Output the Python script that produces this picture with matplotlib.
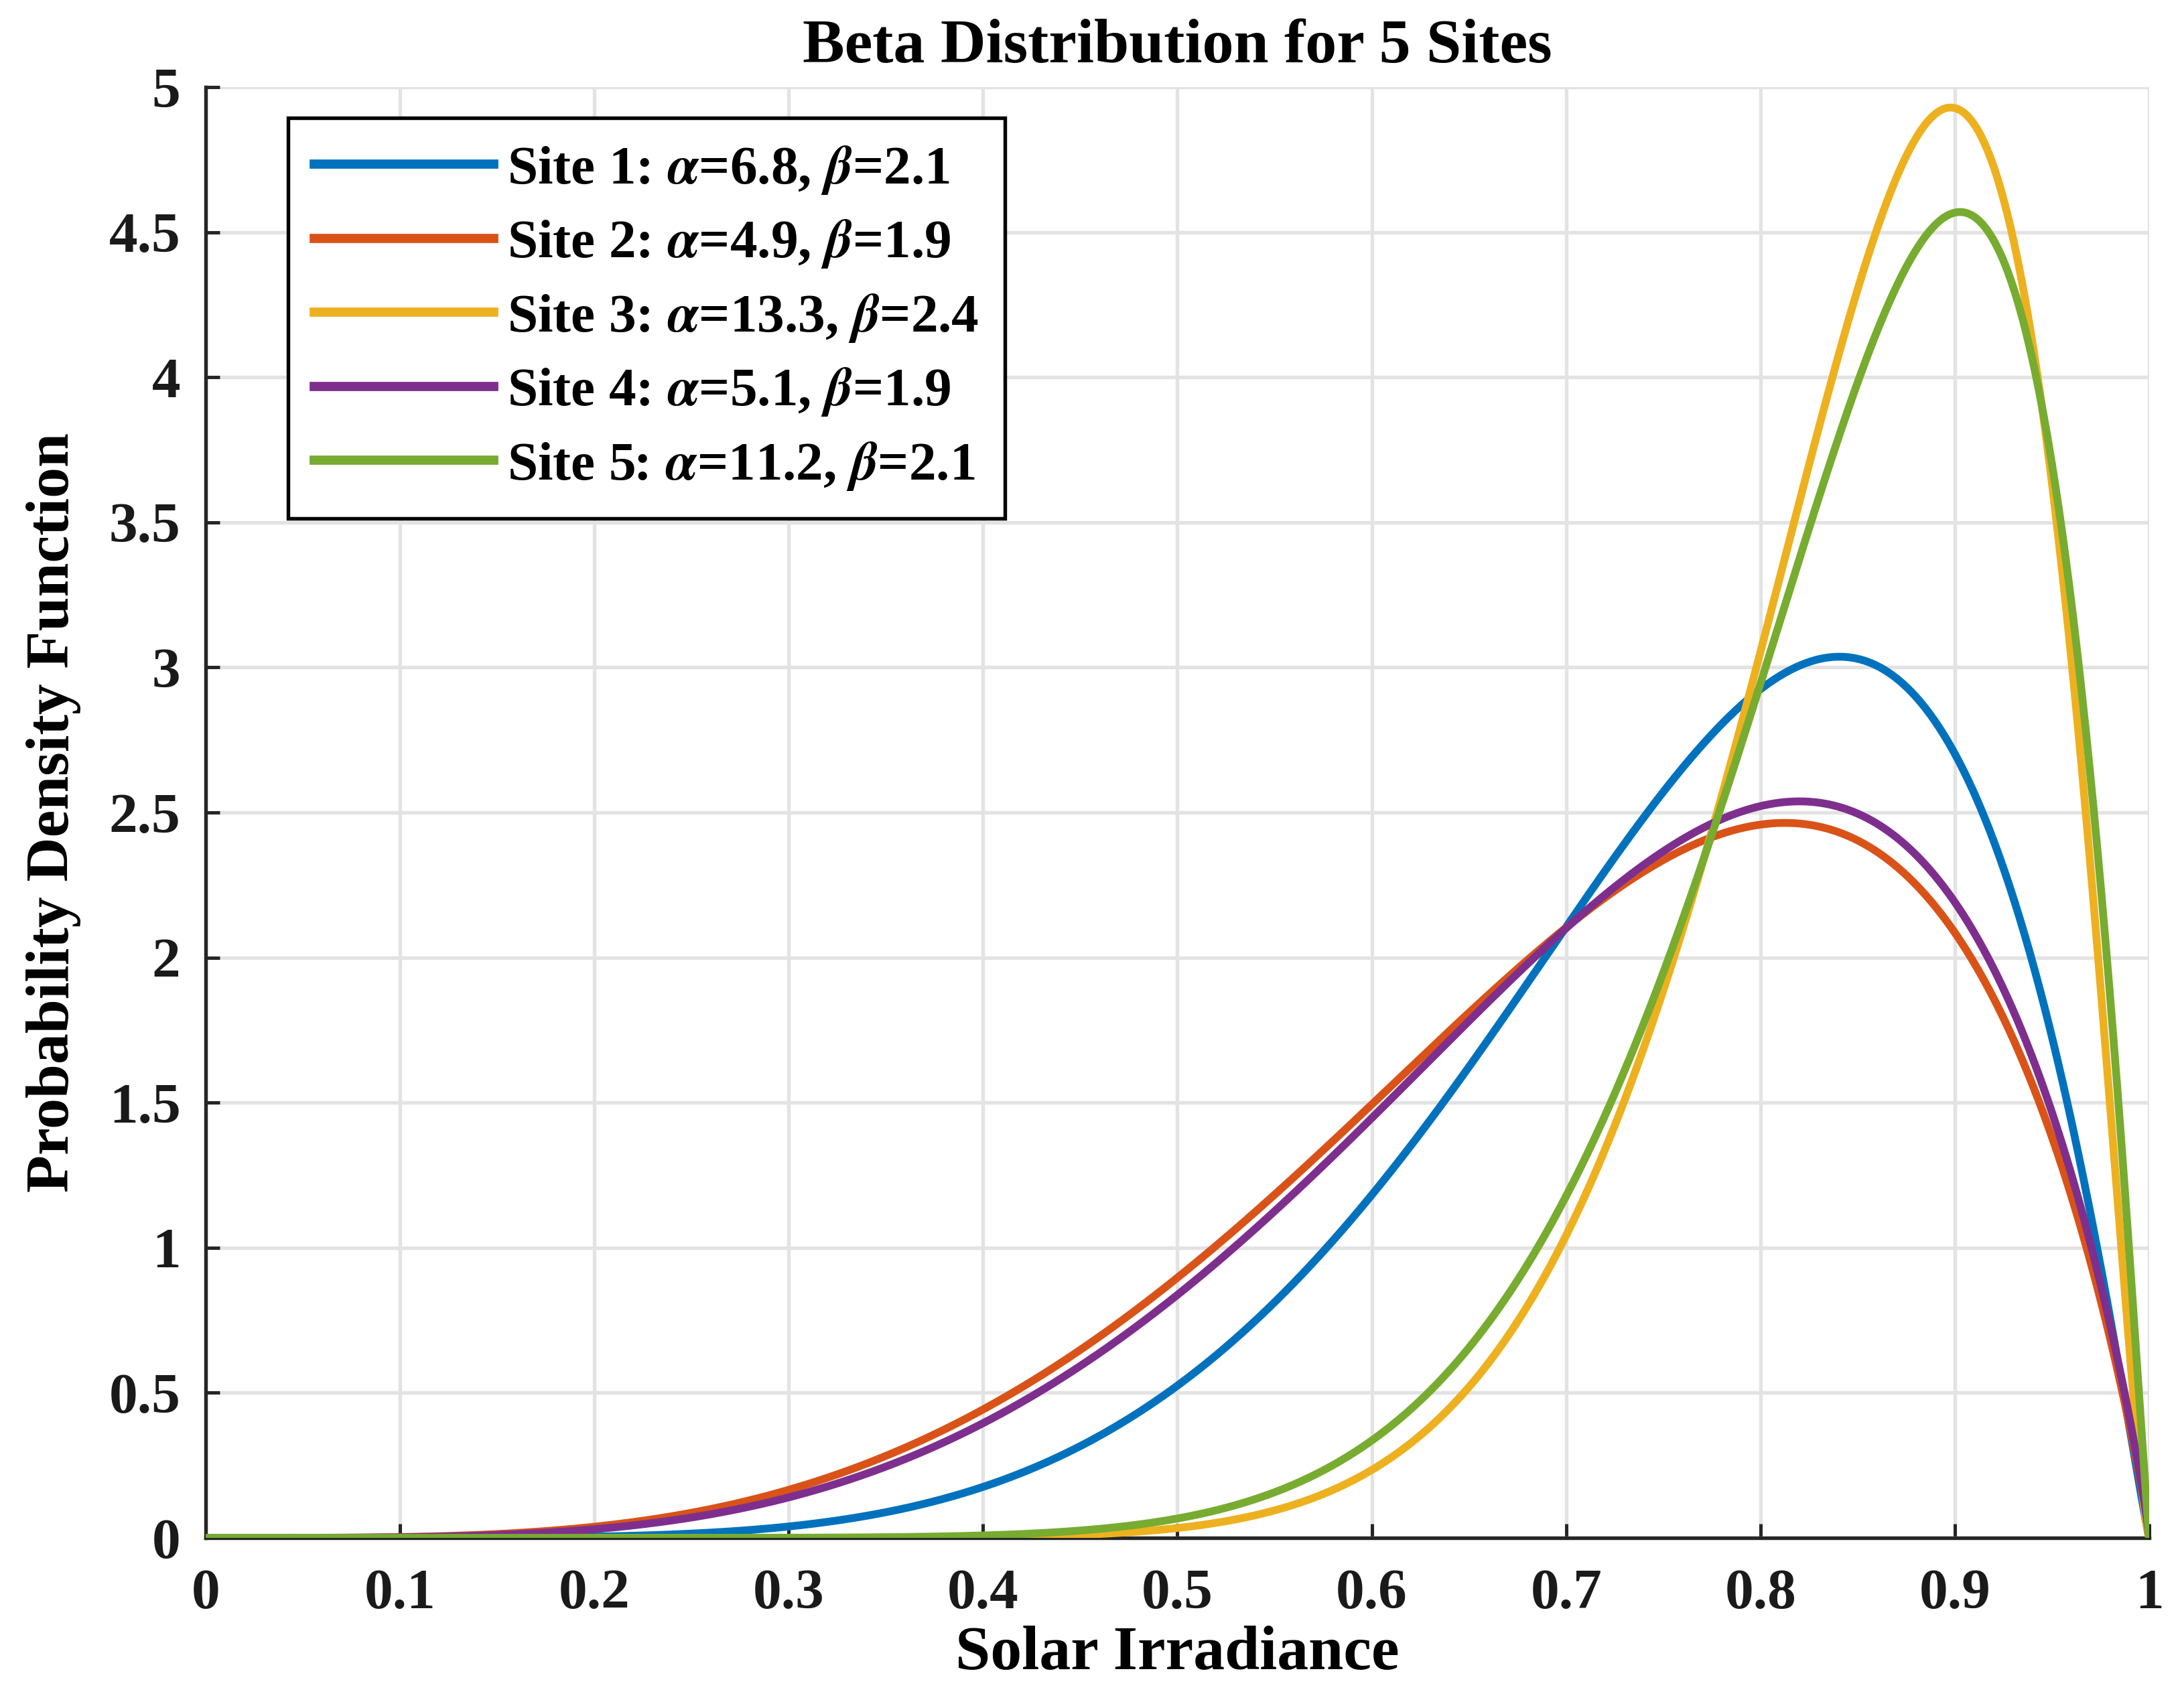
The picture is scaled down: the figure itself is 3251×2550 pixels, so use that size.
import math
import numpy as np
import matplotlib
matplotlib.use('Agg')
import matplotlib.pyplot as plt

# Parameters
sites = ['Site 1', 'Site 2', 'Site 3', 'Site 4', 'Site 5']
alphas = [6.8, 4.9, 13.3, 5.1, 11.2]
betas = [2.1, 1.9, 2.4, 1.9, 2.1]
colors = ['#0072BD', '#D95319', '#EDB120', '#7E2F8E', '#77AC30']

x_ticks = [0, 0.1, 0.2, 0.3, 0.4, 0.5, 0.6, 0.7, 0.8, 0.9, 1]
x_tick_labels = ['0', '0.1', '0.2', '0.3', '0.4', '0.5', '0.6', '0.7', '0.8', '0.9', '1']
y_ticks = [0, 0.5, 1, 1.5, 2, 2.5, 3, 3.5, 4, 4.5, 5]
y_tick_labels = ['0', '0.5', '1', '1.5', '2', '2.5', '3', '3.5', '4', '4.5', '5']

plt.rcParams['font.family'] = ['Liberation Serif', 'DejaVu Serif']
plt.rcParams['font.weight'] = 'bold'
plt.rcParams['mathtext.fontset'] = 'stix'


def beta_pdf(x, a, b):
    lnB = math.lgamma(a) + math.lgamma(b) - math.lgamma(a + b)
    y = np.zeros_like(x)
    m = (x > 0) & (x < 1)
    y[m] = np.exp((a - 1) * np.log(x[m]) + (b - 1) * np.log(1 - x[m]) - lnB)
    return y


x = np.linspace(0, 1, 2001)

fig = plt.figure(figsize=(3251 / 300, 2550 / 300), dpi=300)
ax = fig.add_axes([0.0944, 0.0996, 0.8924, 0.8494])

for name, a, b, c in zip(sites, alphas, betas, colors):
    lab = name + ': $\\alpha$=' + str(a) + ', $\\beta$=' + str(b)
    ax.plot(x, beta_pdf(x, a, b), color=c, lw=2.8, label=lab, zorder=3)

ax.set_xlim(0, 1)
ax.set_ylim(0, 5)
ax.set_xticks(x_ticks)
ax.set_xticklabels(x_tick_labels)
ax.set_yticks(y_ticks)
ax.set_yticklabels(y_tick_labels)
ax.grid(True, color='#e3e3e3', lw=1.3, zorder=0)
ax.set_axisbelow(True)

for s in ['top', 'right']:
    ax.spines[s].set_visible(False)
for s in ['left', 'bottom']:
    ax.spines[s].set_linewidth(1.3)
    ax.spines[s].set_color('#262626')

ax.tick_params(direction='in', length=5, width=1.2, color='#262626',
               labelsize=20.5, labelcolor='#1a1a1a')
ax.tick_params(axis='x', pad=11)
ax.tick_params(axis='y', pad=9)

ax.set_xlabel('Solar Irradiance', fontsize=22.5, fontweight='bold', labelpad=2)
ax.set_ylabel('Probability Density Function', fontsize=22, fontweight='bold', labelpad=10)
ax.set_title('Beta Distribution for 5 Sites', fontsize=22.5, fontweight='bold', pad=9)

leg = ax.legend(loc='upper left', bbox_to_anchor=(0.0424, 0.979), borderaxespad=0,
                fontsize=19.5, handlelength=3.3, handletextpad=0.25, labelspacing=0.40,
                borderpad=0.48, fancybox=False, framealpha=1, edgecolor='black')
leg.get_frame().set_linewidth(1.3)
for line in leg.get_lines():
    line.set_linewidth(3.3)

fig.savefig('out.png', dpi=300)
